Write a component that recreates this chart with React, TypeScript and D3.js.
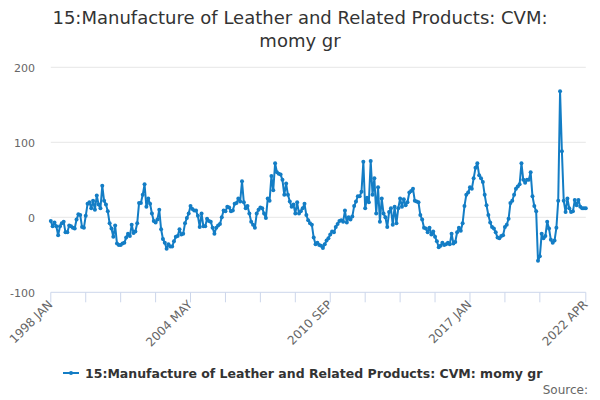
import * as d3 from 'd3';
import * as React from 'react';

const title = ['15:Manufacture of Leather and Related Products: CVM:', 'momy gr'];
const seriesName = '15:Manufacture of Leather and Related Products: CVM: momy gr';
const monthNames = ['JAN', 'FEB', 'MAR', 'APR', 'MAY', 'JUN', 'JUL', 'AUG', 'SEP', 'OCT', 'NOV', 'DEC'];

// monthly, 1998 JAN .. 2022 APR
const values = [
  -5, -12, -7, -12, -24, -12, -8, -6, -20, -20,
  -11, -12, -14, -15, -3, 4, 3, -13, -14, 2,
  18, 20, 12, 22, 10, 29, 17, 12, 42, 22,
  17, 8, -8, -15, -26, -11, -35, -37, -37, -35,
  -34, -27, -22, -25, -10, -21, -19, -8, 19, 19,
  30, 44, 14, 25, 18, 5, -5, -7, -3, 10,
  -16, -29, -34, -42, -36, -39, -39, -32, -26, -25,
  -16, -23, -22, -8, -1, 5, 15, 11, 9, 9,
  2, -13, 5, -12, -12, -2, -5, -6, -14, -22,
  -14, -11, -9, 0, 9, 8, 14, 13, 8, 9,
  18, 19, 25, 21, 48, 20, 12, 15, 5, -6,
  -10, -14, 5, 10, 13, 12, 5, -1, 25, 22,
  55, 36, 72, 60, 58, 57, 50, 30, 45, 30,
  21, 14, 17, 5, 20, 5, 8, 12, 18, 3,
  -4, -8, -10, -27, -36, -34, -37, -38, -41, -36,
  -31, -28, -23, -19, -20, -13, -9, -5, -4, -6,
  9, -7, 0, -3, 1, 15, 21, 28, 28, 34,
  74, 12, 26, 20, 75, 30, 52, 5, 40, -6,
  25, 5, 0, -13, 7, 12, -10, 14, -8, 12,
  25, 14, 24, 16, 20, 33, 35, 38, 22, 21,
  20, 3, -3, -14, -15, -20, -14, -23, -19, -26,
  -32, -40, -38, -34, -37, -36, -34, -36, -22, -35,
  -33, -20, -14, -18, -8, 15, 30, 33, 40, 38,
  52, 66, 72, 56, 52, 47, 30, 16, 3, -7,
  -13, -15, -20, -27, -28, -25, -24, -13, -10, -2,
  19, 22, 30, 38, 41, 44, 72, 50, 46, 50,
  50, 60, 28, 15, 8, -58, -52, -22, -28, -25,
  -6, -15, -30, -34, -31, -14, 22, 168, 88, 22,
  7, 25, 12, 7, 8, 23, 16, 23, 14, 12,
  12, 12,
];

const categories = values.map((_, i) => `${1998 + Math.floor(i / 12)} ${monthNames[i % 12]}`);
const yTicks = [-100, 0, 100, 200];

const font = '"DejaVu Sans", sans-serif';
const lineColor = '#137dc5';

export default function App() {
  const width = 600;
  const height = 400;
  const left = 50.8;
  const right = 585.8;

  const x = d3.scalePoint<number>().domain(d3.range(values.length)).range([left, right]);
  const y = d3.scaleLinear().domain([-100, 200]).range([292.3, 67.3]);

  const last = values.length - 1;
  // a tick every 19 months, a label on every 4th tick, plus the last month
  const tickIdx = d3.range(0, last - 19, 19).concat([last]);
  const labelIdx = tickIdx.filter((t, k) => k % 4 === 0 || t === last);

  const line = d3
    .line<number>()
    .x((_, i) => x(i) as number)
    .y((d) => y(d));

  return (
    <svg width={width} height={height} style={{ position: 'absolute', left: 0, top: 0, fontFamily: font }}>
      <rect width={width} height={height} fill="#fff" />
      {title.map((t, i) => (
        <text key={i} x={width / 2} y={24 + i * 23} textAnchor="middle" fontSize={18} fill="#333">
          {t}
        </text>
      ))}
      {yTicks.map((t) => (
        <g key={t}>
          {t !== -100 && <line x1={left} x2={right} y1={y(t)} y2={y(t)} stroke="#e6e6e6" />}
          <text x={35} y={y(t) + 4.5} textAnchor="end" fontSize={11} fill="#666">
            {t}
          </text>
        </g>
      ))}
      <line x1={left} x2={right} y1={y(-100)} y2={y(-100)} stroke="#ccd6eb" />
      {tickIdx.map((t) => (
        <line key={t} x1={x(t)} x2={x(t)} y1={y(-100)} y2={y(-100) + 10} stroke="#ccd6eb" />
      ))}
      {labelIdx.map((t) => (
        <text
          key={t}
          transform={`translate(${(x(t) as number) + 2.5},${y(-100) + 13}) rotate(-45)`}
          textAnchor="end"
          fontSize={12}
          fill="#666"
        >
          {categories[t]}
        </text>
      ))}
      <path d={line(values) ?? ''} fill="none" stroke={lineColor} strokeWidth={2} strokeLinejoin="round" />
      {values.map((v, i) => (
        <circle key={i} cx={x(i)} cy={y(v)} r={2} fill={lineColor} />
      ))}
      <g transform="translate(63,373)">
        <line x1={0} x2={16} y1={0} y2={0} stroke={lineColor} strokeWidth={2} />
        <circle cx={8} cy={0} r={2} fill={lineColor} />
        <text x={22} y={4.5} fontSize={12.5} fontWeight="bold" fill="#333">
          {seriesName}
        </text>
      </g>
      <text x={588} y={394} textAnchor="end" fontSize={12} fill="#666">
        Source:
      </text>
    </svg>
  );
}
